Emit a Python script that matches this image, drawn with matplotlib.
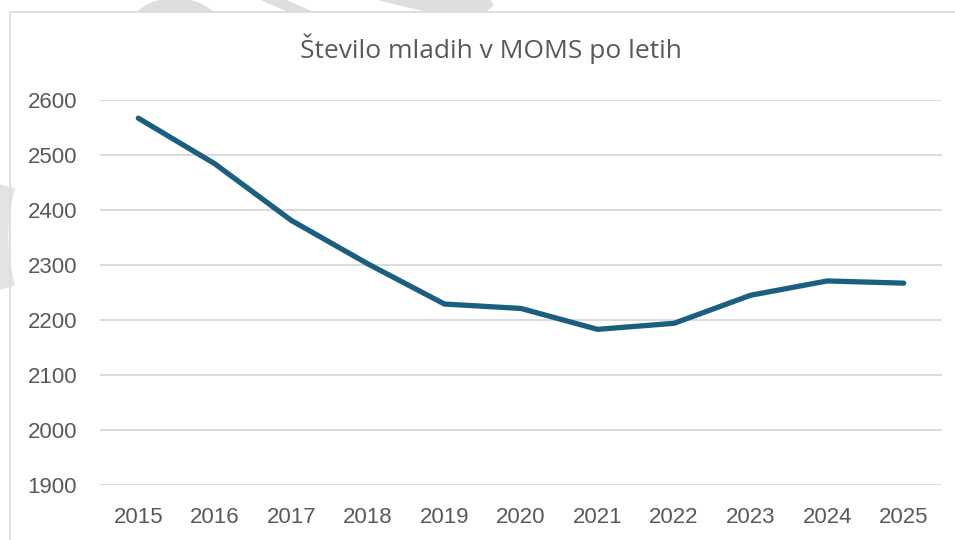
import matplotlib.pyplot as plt
from matplotlib.patches import Rectangle, Arc, Polygon

# Podatki
leta = ['2015', '2016', '2017', '2018', '2019', '2020', '2021', '2022', '2023', '2024', '2025']
stevilo = [2567, 2484, 2381, 2302, 2229, 2221, 2183, 2194, 2245, 2271, 2267]
y_ticks = [1900, 2000, 2100, 2200, 2300, 2400, 2500, 2600]

W, H = 955, 540
fig = plt.figure(figsize=(W / 100, H / 100), dpi=100)
fig.patch.set_facecolor('white')

def fx(px):
    return px / W

def fy(py):
    return 1 - py / H

# vodni žig (svetlo sivi liki zgoraj levo)
wm = '#dedede'
fig.patches.append(Arc((fx(175), fy(40)), 90 / W, 70 / H, theta1=45, theta2=135,
                       lw=10, color=wm, transform=fig.transFigure, zorder=-3))
fig.patches.append(Polygon([(fx(262), fy(0)), (fx(285), fy(0)), (fx(312), fy(12)), (fx(290), fy(12))],
                           closed=True, color=wm, transform=fig.transFigure, zorder=-3))
fig.patches.append(Polygon([(fx(380), fy(0)), (fx(490), fy(0)), (fx(493), fy(5)), (fx(485), fy(12)), (fx(430), fy(12))],
                           closed=True, color=wm, transform=fig.transFigure, zorder=-3))

# okvir grafikona
fig.patches.append(Rectangle((fx(10), -0.1), 1.2, fy(12) + 0.1, transform=fig.transFigure,
                             facecolor='white', edgecolor='#d9d9d9', lw=1.2, zorder=-2))

fig.patches.append(Arc((fx(70), fy(237)), 140 / W, 230 / H, theta1=125, theta2=235,
                       lw=12, color=wm, alpha=0.85, transform=fig.transFigure, zorder=10))

ax = fig.add_axes([fx(100), fy(485), fx(942) - fx(100), fy(100) - fy(485)])
ax.set_facecolor('none')
ax.set_zorder(5)

ax.plot(range(len(leta)), stevilo, color='#1a5f80', lw=3.8, solid_capstyle='round',
        solid_joinstyle='round', zorder=3)

ax.set_xlim(-0.5, len(leta) - 0.5)
ax.set_ylim(1900, 2600)
ax.set_yticks(y_ticks)
ax.set_xticks(range(len(leta)))
ax.set_xticklabels(leta)
ax.grid(axis='y', color='#d9d9d9', lw=1.3)
ax.set_axisbelow(True)
for s in ax.spines.values():
    s.set_visible(False)
ax.tick_params(length=0, colors='#595959', labelsize=16, pad=16.5)
ax.tick_params(axis='x', pad=16)
for lab in ax.get_xticklabels() + ax.get_yticklabels():
    lab.set_family('Liberation Sans')

fig.text(fx(491), fy(58), 'Število mladih v MOMS po letih', ha='center', va='baseline',
         fontsize=19, color='#595959', family='Open Sans')

fig.savefig('out.png', dpi=100)
